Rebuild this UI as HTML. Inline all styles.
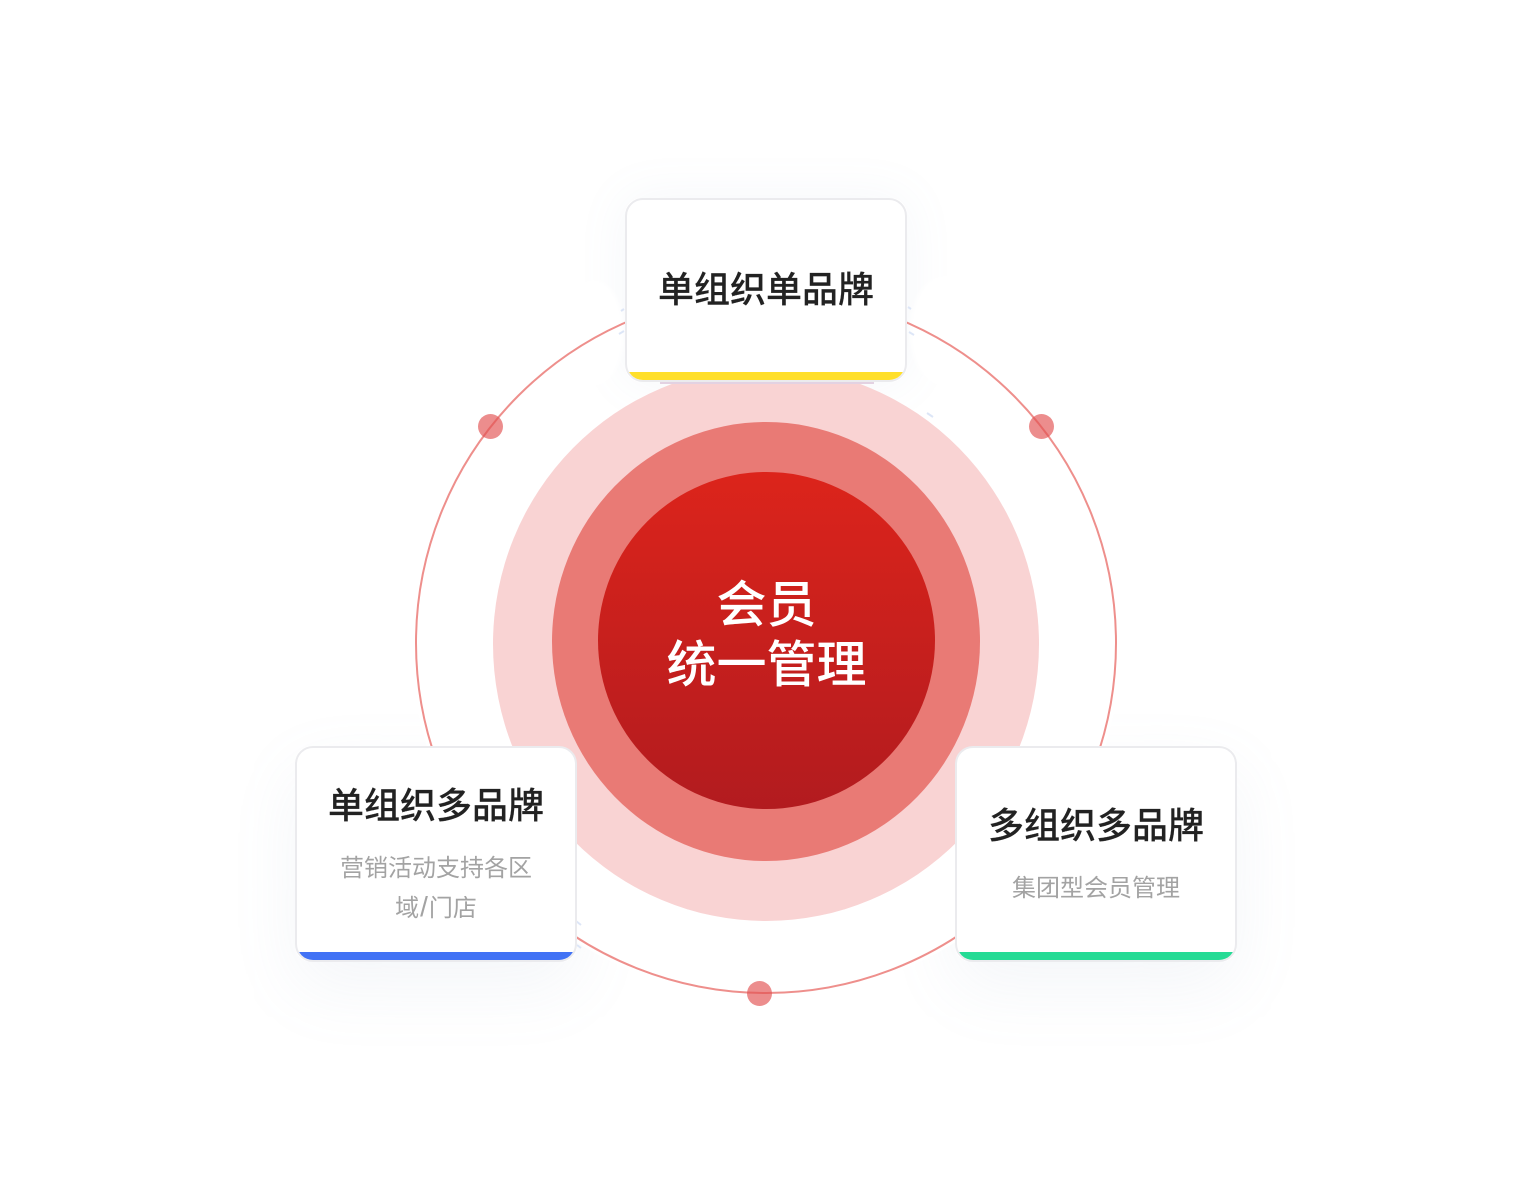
<!DOCTYPE html>
<html><head><meta charset="utf-8">
<style>
html,body{margin:0;padding:0;background:#fff}
body{width:1532px;height:1200px;position:relative;overflow:hidden;font-family:"Liberation Sans","Noto Sans CJK SC",sans-serif}
.c{position:absolute;border-radius:50%}
.sh{position:absolute;border-radius:16px;box-shadow:0 26px 70px rgba(130,150,190,.09)}
.card{position:absolute;width:282px;background:#fff;border:2px solid #ebebee;box-sizing:border-box;border-radius:18px;overflow:hidden;text-align:center}
.card i{position:absolute;left:0;right:0;bottom:0;height:8px}
.t{position:absolute;left:0;right:0;font-size:36px;line-height:48px;font-weight:500;color:#222;-webkit-text-stroke:.15px #222}
.s{position:absolute;left:0;right:0;font-size:24px;line-height:40px;color:#a3a3a3}
.dot{position:absolute;width:25px;height:25px;border-radius:50%;background:rgba(226,80,80,.65)}
svg{position:absolute;left:0;top:0}
</style></head><body>
<div class="sh" style="left:295px;top:746px;width:282px;height:216px"></div>
<div class="sh" style="left:955px;top:746px;width:282px;height:216px"></div>
<div class="c" style="left:411px;top:287px;width:710px;height:710px;background:#fff"></div>
<div class="sh" style="left:625px;top:198px;width:282px;height:184px;box-shadow:0 0 50px rgba(130,150,190,.08)"></div>
<div class="c" style="left:562px;top:280px;width:62px;height:106px;background:#fff;filter:blur(3px)"></div>
<div class="c" style="left:910px;top:276px;width:70px;height:110px;background:#fff;filter:blur(3px)"></div>
<div class="c" style="left:415px;top:292px;width:702px;height:702px;border:2px solid #ee8f8c;box-sizing:border-box"></div>
<svg width="1532" height="1200" fill="none" stroke="#dde6f7" stroke-width="2">
<path d="M621 311l3-2M619 334l5-3M908 307l3 2M909 332l5 3M576 921l5 4M577 945l4 3M927 413l6 4"/>
</svg>
<div class="c" style="left:493px;top:367px;width:546px;height:554px;background:#f9d3d3"></div>
<div style="position:absolute;left:660px;top:382px;width:214px;height:2px;background:#e3d2e2"></div>
<div class="c" style="left:552px;top:422px;width:428px;height:439px;background:#e97a75"></div>
<div class="c" style="left:598px;top:472px;width:337px;height:337px;background:linear-gradient(180deg,#dc241b,#b21b1f)"></div>
<div class="dot" style="left:478px;top:414px"></div>
<div class="dot" style="left:1029px;top:414px"></div>
<div class="dot" style="left:747px;top:981px"></div>
<div style="position:absolute;left:598px;width:337px;top:575px;text-align:center;color:#fff;font-size:50px;line-height:60px;font-weight:500">会员<br>统一管理</div>
<div class="card" style="left:625px;top:198px;height:184px"><div class="t" style="top:66px">单组织单品牌</div><i style="background:#ffdf2a"></i></div>
<div class="card" style="left:295px;top:746px;height:216px"><div class="t" style="top:34px">单组织多品牌</div><div class="s" style="top:101px;padding:0 40px">营销活动支持各区<br>域<span style="margin:0 1px;font-size:28px;line-height:24px">/</span>门店</div><i style="background:#4172f5"></i></div>
<div class="card" style="left:955px;top:746px;height:216px"><div class="t" style="top:54px">多组织多品牌</div><div class="s" style="top:121px">集团型会员管理</div><i style="background:#25db95"></i></div>
</body></html>
